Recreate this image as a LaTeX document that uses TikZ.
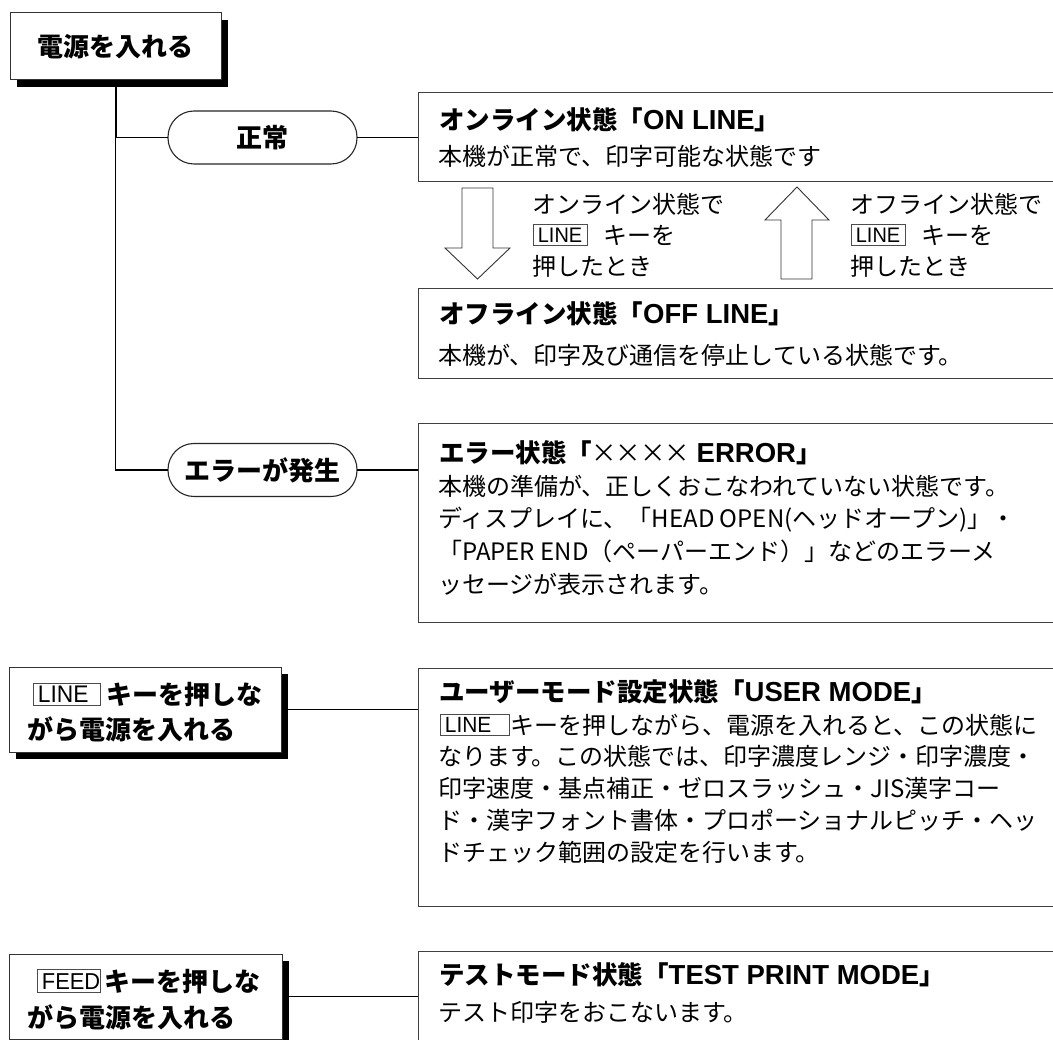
\documentclass[tikz,border=0pt]{standalone}
\usepackage{fontspec}
\usepackage{graphicx}
\usepackage{xcolor}
\setmainfont{Noto Sans CJK JP}
\newfontfamily\keyfont{Liberation Sans}[FakeStretch=0.95]
\newfontfamily\latbf{Liberation Sans}
\newcommand\latb{\latbf\fontsize{27.5}{30}\selectfont}
\usetikzlibrary{shadows}
% #1 inner width, #2 height, #3 font size, #4 text raise, #5 label
\newcommand\keylab[5]{\raisebox{-1pt}{\setlength\fboxsep{0pt}\setlength\fboxrule{0.7pt}\fcolorbox{black!70}{white}{\makebox[#1][l]{\rule{0pt}{#2}\hspace{4pt}\raisebox{#4}{\keyfont\mdseries\fontsize{#3}{#3}\selectfont #5}}}}}
\newcommand\xx{\makebox[0.95em]{\mdseries ×}}
\begin{document}
\begin{tikzpicture}[x=1pt,y=-1pt,
  frm/.style={anchor=north west, inner sep=0pt, outer sep=0pt, draw=none},
  bord/.style={draw=black!75, line width=1pt},
  conn/.style={draw=black, line width=1.4pt},
  ttl/.style={anchor=base west, inner sep=0pt, font=\fontsize{25.5}{30}\selectfont\bfseries},
  bod/.style={anchor=base west, inner sep=0pt, font=\fontsize{24}{30}\selectfont},
  lft/.style={anchor=base west, inner sep=0pt, font=\fontsize{26}{30}\selectfont\bfseries},
  sbox/.style={anchor=north west, draw=black!80, line width=1pt, fill=white, inner sep=0pt, outer sep=0pt,
    font=\fontsize{26}{30}\selectfont\bfseries,
    drop shadow={shadow xshift=7pt, shadow yshift=-7pt, fill=black, opacity=1}},
  pill/.style={draw=black!85, line width=1.1pt, rounded corners=26pt, minimum width=189, minimum height=53,
    inner sep=0pt, outer sep=0pt, fill=white, font=\fontsize{26}{30}\selectfont\bfseries},
  arr/.style={draw=black!80, line width=0.9pt, line join=miter}
]
\useasboundingbox (0,0) rectangle (1053,1040);
\fill[white] (0,0) rectangle (1053,1040);

% state frames (open on the right)
\node[frm, minimum width=635, minimum height=89] (on) at (418,93) {};
\node[frm, minimum width=635, minimum height=90] (off) at (418,289) {};
\node[frm, minimum width=635, minimum height=198] (err) at (418,424) {};
\node[frm, minimum width=635, minimum height=238] (usr) at (418,668) {};
\node[frm, minimum width=635, minimum height=110] (tst) at (418,951) {};
\foreach \b in {on,off,err,usr}
  \draw[bord] (\b.north east) -- (\b.north west) -- (\b.south west) -- (\b.south east);
\draw[bord] (tst.north east) -- (tst.north west) -- (tst.south west);

% boxes, pills and connectors
\node[sbox, minimum width=211, minimum height=67] (pw) at (10,13) {};
\node[pill] (np) at (262.5,137.5) {正常};
\node[pill] (ep) at (262.5,470) {エラーが発生};
\draw[conn, line width=2pt] (pw.south) -- (pw.south |- np.west);
\draw[conn] (pw.south |- np.west) -- (np.west);
\draw[conn] (pw.south |- np.west) -- (pw.south |- ep.west) -- (ep.west);
\draw[conn] (np.east) -- (on.west);
\draw[conn] (ep.east) -- (ep.east -| err.west);

\node[sbox, minimum width=272, minimum height=85] (lb) at (9,667) {};
\node[sbox, minimum width=273, minimum height=85] (fb) at (9,954) {};
\draw[conn] (lb.east) -- (lb.east -| usr.west);
\draw[conn] (fb.east) -- (fb.east -| tst.west);

% redraw boxes above connectors
\node[sbox, minimum width=211, minimum height=67] (pw2) at (10,13) {電源を入れる};
\node[sbox, minimum width=272, minimum height=85] (lb2) at (9,667) {};
\node[sbox, minimum width=273, minimum height=85] (fb2) at (9,954) {};

% left box texts
\node[lft] (lbt1) at (33,704.4) {\keylab{66pt}{22pt}{24pt}{2.5pt}{LINE}\hspace{6pt}キーを押しな};
\node[lft] (lbt2) at (27,739.9) {がら電源を入れる};
\node[lft] (fbt1) at (37,991.4) {\keylab{62pt}{23pt}{23pt}{3pt}{FEED}\hspace{4pt}キーを押しな};
\node[lft] (fbt2) at (27,1027.4) {がら電源を入れる};

% ON LINE
\node[ttl] (ont) at (439,129.2) {オンライン状態「{\latb ON LINE}」};
\node[bod] (onb) at (438,165.1) {本機が正常で、印字可能な状態です};

% block arrows
\draw[arr] (462,188) -- (493,188) -- (493,248) -- (510,248) -- (477.5,279) -- (445,248) -- (462,248) -- cycle;
\draw[arr] (797,187) -- (829,220) -- (812,220) -- (812,279) -- (781,279) -- (781,220) -- (765,220) -- cycle;
\node[bod] (a1) at (532,213.1) {オンライン状態で};
\node[bod] (a2) at (533,244.1) {\keylab{53pt}{20pt}{21pt}{2.6pt}{LINE}\hspace{16pt}キーを};
\node[bod] (a3) at (532,275.1) {押したとき};
\node[bod] (b1) at (850,213.1) {オフライン状態で};
\node[bod] (b2) at (851,244.1) {\keylab{53pt}{20pt}{21pt}{2.6pt}{LINE}\hspace{16pt}キーを};
\node[bod] (b3) at (850,275.1) {押したとき};

% OFF LINE
\node[ttl] (offt) at (439,323.7) {オフライン状態「{\latb OFF LINE}」};
\node[bod] (offb) at (438,364.1) {本機が、印字及び通信を停止している状態です。};

% ERROR
\node[ttl] (errt) at (439,462.4) {エラー状態「\xx\xx\xx\xx{\latb\ ERROR}」};
\node[bod] (e1) at (438,495.1) {本機の準備が、正しくおこなわれていない状態です。};
\node[bod] (e2) at (438,527.8) {ディスプレイに、「HEAD OPEN(ヘッドオープン)」・};
\node[bod] (e3) at (438,560.5) {「PAPER END（ペーパーエンド）」などのエラーメ};
\node[bod] (e4) at (438,593.2) {ッセージが表示されます。};

% USER MODE
\node[ttl] (ut) at (439,701.7) {ユーザーモード設定状態「{\latb USER MODE}」};
\node[bod] (u1) at (440,734.1) {\keylab{68pt}{20pt}{22pt}{2.5pt}{LINE}\hspace{1pt}キーを押しながら、電源を入れると、この状態に};
\node[bod] (u2) at (438,765.9) {なります。この状態では、印字濃度レンジ・印字濃度・};
\node[bod] (u3) at (438,797.6) {印字速度・基点補正・ゼロスラッシュ・JIS漢字コー};
\node[bod] (u4) at (438,829.4) {ド・漢字フォント書体・プロポーショナルピッチ・ヘッ};
\node[bod] (u5) at (438,861.1) {ドチェック範囲の設定を行います。};

% TEST PRINT MODE
\node[ttl] (tt) at (439,984.7) {テストモード状態「{\latb TEST PRINT MODE}」};
\node[bod] (tb) at (438,1021.5) {テスト印字をおこないます。};
\end{tikzpicture}
\end{document}
